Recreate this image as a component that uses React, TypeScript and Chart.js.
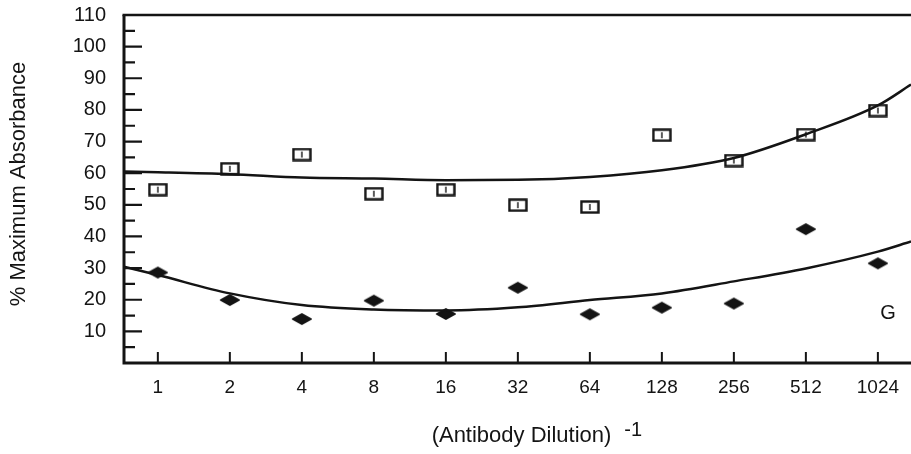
import React, { useEffect, useRef } from "react";
import { Chart, registerables } from "chart.js";

Chart.register(...registerables);

const dilutionLabels = ["1", "2", "4", "8", "16", "32", "64", "128", "256", "512", "1024"];
const squareValues = [54.8, 61.4, 65.9, 53.5, 54.8, 49.9, 49.3, 72.0, 64.0, 72.2, 79.8];
const diamondValues = [28.6, 19.9, 13.9, 19.7, 15.5, 23.8, 15.4, 17.5, 18.8, 42.3, 31.5];
const curveX = [-0.47, 0, 1, 2, 3, 4, 5, 6, 7, 8, 9, 10, 10.46];
const upperCurve = [60.5, 60.3, 59.7, 58.6, 58.3, 57.8, 57.9, 58.8, 60.9, 64.8, 72.3, 81.4, 88.0];
const lowerCurve = [30.4, 27.8, 22.0, 18.3, 16.9, 16.6, 17.6, 19.9, 22.0, 25.8, 29.9, 35.2, 38.4];
const yMajorTicks = [10, 20, 30, 40, 50, 60, 70, 80, 90, 100, 110];
const yMinorTicks = [5, 15, 25, 35, 45, 55, 65, 75, 85, 95, 105];
const yTitle = "% Maximum Absorbance";
const xTitle = "(Antibody Dilution)";
const xTitleSup = "-1";
const panelLabel = "G";

const FONT = "'Liberation Sans', Arial, sans-serif";
const INK = "#141414";

function makeSquare(): HTMLCanvasElement {
  const c = document.createElement("canvas");
  c.width = 20;
  c.height = 14;
  const g = c.getContext("2d")!;
  g.strokeStyle = INK;
  g.lineWidth = 2.4;
  g.strokeRect(1.5, 1.5, 17, 11);
  g.lineWidth = 1.4;
  g.beginPath();
  g.moveTo(10, 4);
  g.lineTo(10, 10);
  g.stroke();
  return c;
}

function makeDiamond(): HTMLCanvasElement {
  const c = document.createElement("canvas");
  c.width = 22;
  c.height = 14;
  const g = c.getContext("2d")!;
  g.fillStyle = INK;
  g.strokeStyle = INK;
  g.lineWidth = 2;
  g.lineJoin = "round";
  g.beginPath();
  g.moveTo(2, 7);
  g.lineTo(11, 2);
  g.lineTo(20, 7);
  g.lineTo(11, 12);
  g.closePath();
  g.fill();
  g.stroke();
  return c;
}

const decorPlugin = {
  id: "decor",
  afterDraw(chart: any) {
    const { ctx, chartArea } = chart;
    const { left, right, top, bottom } = chartArea;
    const xs = chart.scales.x;
    const ys = chart.scales.y;
    ctx.save();
    ctx.strokeStyle = INK;
    ctx.lineCap = "butt";
    ctx.lineWidth = 2.6;
    ctx.beginPath();
    ctx.moveTo(left - 1.5, top);
    ctx.lineTo(right, top);
    ctx.stroke();
    ctx.lineWidth = 3;
    ctx.beginPath();
    ctx.moveTo(left, top);
    ctx.lineTo(left, bottom + 1.5);
    ctx.moveTo(left - 1.5, bottom);
    ctx.lineTo(right, bottom);
    ctx.stroke();
    ctx.lineWidth = 2.2;
    ctx.beginPath();
    yMajorTicks.forEach((v) => {
      const y = ys.getPixelForValue(v);
      ctx.moveTo(left, y);
      ctx.lineTo(left + 18, y);
    });
    yMinorTicks.forEach((v) => {
      const y = ys.getPixelForValue(v);
      ctx.moveTo(left, y);
      ctx.lineTo(left + 11, y);
    });
    ctx.stroke();
    ctx.lineWidth = 2;
    ctx.beginPath();
    dilutionLabels.forEach((_, i) => {
      const x = xs.getPixelForValue(i);
      ctx.moveTo(x, bottom);
      ctx.lineTo(x, bottom - 11);
    });
    ctx.stroke();

    ctx.fillStyle = INK;
    ctx.save();
    ctx.translate(19, (top + bottom) / 2 - 5);
    ctx.rotate(-Math.PI / 2);
    ctx.font = `22px ${FONT}`;
    ctx.textAlign = "center";
    ctx.textBaseline = "middle";
    ctx.fillText(yTitle, 0, 0);
    ctx.restore();

    ctx.font = `22px ${FONT}`;
    ctx.textAlign = "left";
    ctx.textBaseline = "alphabetic";
    const w = ctx.measureText(xTitle).width;
    const cx = (left + right) / 2 + 4;
    const tx = cx - w / 2;
    ctx.fillText(xTitle, tx, 442);
    ctx.font = `20px ${FONT}`;
    ctx.fillText(xTitleSup, tx + w + 13, 436);

    ctx.font = `20px ${FONT}`;
    ctx.textAlign = "center";
    ctx.textBaseline = "middle";
    ctx.fillText(panelLabel, xs.getPixelForValue(10.14), ys.getPixelForValue(15.5));
    ctx.restore();
  },
};

export default function App() {
  const ref = useRef<HTMLCanvasElement | null>(null);

  useEffect(() => {
    document.body.style.margin = "0";
    document.body.style.background = "#ffffff";
    const canvas = ref.current!;
    const chart = new Chart(canvas, {
      type: "scatter",
      data: {
        datasets: [
          {
            type: "line",
            data: curveX.map((x, i) => ({ x, y: upperCurve[i] })),
            borderColor: INK,
            borderWidth: 2.5,
            pointRadius: 0,
            cubicInterpolationMode: "monotone",
            fill: false,
          } as any,
          {
            type: "line",
            data: curveX.map((x, i) => ({ x, y: lowerCurve[i] })),
            borderColor: INK,
            borderWidth: 2.5,
            pointRadius: 0,
            cubicInterpolationMode: "monotone",
            fill: false,
          } as any,
          {
            data: squareValues.map((y, i) => ({ x: i, y })),
            pointStyle: makeSquare(),
            pointRadius: 9,
            showLine: false,
          } as any,
          {
            data: diamondValues.map((y, i) => ({ x: i, y })),
            pointStyle: makeDiamond(),
            pointRadius: 9,
            showLine: false,
          } as any,
        ],
      },
      options: {
        animation: false,
        responsive: false,
        maintainAspectRatio: false,
        layout: { autoPadding: false, padding: { top: 15, left: 0, right: 0, bottom: 0 } },
        plugins: { legend: { display: false }, tooltip: { enabled: false } },
        scales: {
          x: {
            type: "linear",
            min: -0.47,
            max: 10.46,
            grid: { display: false, drawTicks: false },
            border: { display: false },
            afterFit: (s: any) => {
              s.height = 91;
              s.paddingLeft = 0;
              s.paddingRight = 0;
            },
            afterBuildTicks: (s: any) => {
              s.ticks = dilutionLabels.map((_, i) => ({ value: i }));
            },
            ticks: {
              padding: 13,
              autoSkip: false,
              maxRotation: 0,
              color: INK,
              font: { family: FONT, size: 19 },
              callback: (v: any) => dilutionLabels[Math.round(Number(v))] ?? "",
            },
          },
          y: {
            type: "linear",
            min: 0,
            max: 110,
            grid: { display: false, drawTicks: false },
            border: { display: false },
            afterFit: (s: any) => {
              s.width = 124;
              s.paddingTop = 0;
              s.paddingBottom = 0;
            },
            afterBuildTicks: (s: any) => {
              s.ticks = yMajorTicks.map((v) => ({ value: v }));
            },
            ticks: {
              padding: 18,
              color: INK,
              font: { family: FONT, size: 20 },
              callback: (v: any) => String(v),
            },
          },
        },
      },
      plugins: [decorPlugin],
    } as any);
    return () => chart.destroy();
  }, []);

  return <canvas ref={ref} width={911} height={454} style={{ display: "block" }} />;
}
